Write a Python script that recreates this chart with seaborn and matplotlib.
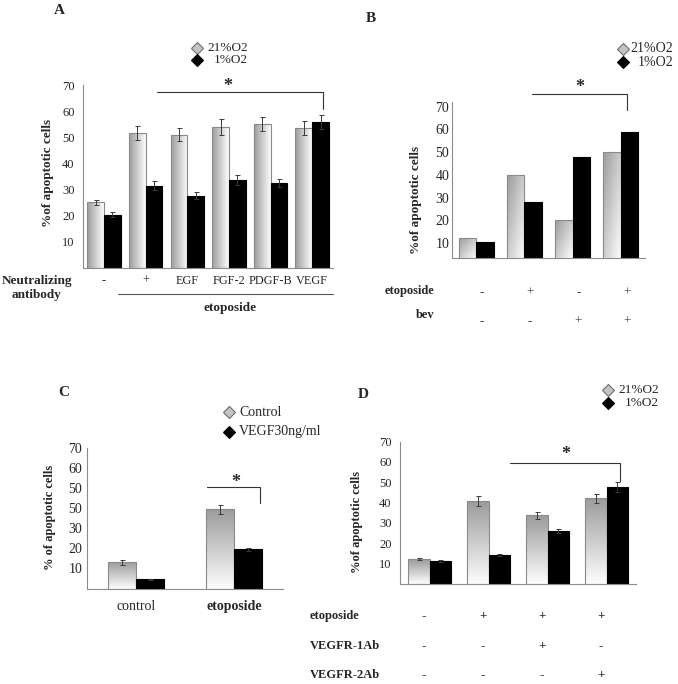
import numpy as np
import pandas as pd
import matplotlib
matplotlib.use("Agg")
import matplotlib.pyplot as plt
import matplotlib.transforms as mtransforms
import seaborn as sns
from matplotlib.colors import LinearSegmentedColormap
from matplotlib.lines import Line2D

# ---- data ----
# Panel A
a_groups = ["-", "+", "EGF", "FGF-2", "PDGF-B", "VEGF"]
a_21 = [25.1, 51.6, 51.0, 53.9, 55.0, 53.4]
a_21_err = [1.1, 2.6, 2.4, 3.0, 2.6, 2.7]
a_1 = [20.4, 31.5, 27.7, 33.7, 32.5, 55.7]
a_1_err = [1.0, 1.7, 1.2, 1.8, 1.4, 2.7]

# Panel B
b_groups = ["b1", "b2", "b3", "b4"]
b_etoposide = ["-", "+", "-", "+"]
b_bev = ["-", "-", "+", "+"]
b_21 = [12.1, 40.0, 20.1, 50.0]
b_1 = [10.3, 28.2, 48.0, 58.8]

# Panel C
c_groups = ["control", "etoposide"]
c_control = [13.0, 39.5]
c_control_err = [1.1, 2.2]
c_vegf = [4.5, 19.5]
c_vegf_err = [0.3, 0.6]
c_ytick_values = [10, 20, 30, 40, 50, 60, 70]
c_ytick_labels = ["10", "20", "30", "50", "50", "60", "70"]

# Panel D
d_groups = ["d1", "d2", "d3", "d4"]
d_etoposide = ["-", "+", "+", "+"]
d_r1ab = ["-", "-", "+", "-"]
d_r2ab = ["-", "-", "-", "+"]
d_21 = [12.1, 40.8, 33.6, 42.0]
d_21_err = [0.7, 2.3, 1.5, 2.4]
d_1 = [11.0, 14.1, 26.0, 47.6]
d_1_err = [0.4, 0.6, 1.1, 2.3]

o2_labels = ["21%O2", "1%O2"]
c_labels = ["Control", "VEGF30ng/ml"]

# ---- setup ----
sns.set_style("white")
plt.rcParams["font.family"] = ["Liberation Serif", "DejaVu Serif"]
W, H = 678, 684
fig = plt.figure(figsize=(W / 100, H / 100), dpi=100)
grad_cmap = LinearSegmentedColormap.from_list("grad", ["#fdfdfd", "#9c9c9c"])
AXIS_GREY = "#8c8c8c"


def px_axes(l, t, r, b):
    return fig.add_axes([l / W, 1 - b / H, (r - l) / W, (b - t) / H])


def ftext(x, y, s, **kw):
    fig.text(x / W, 1 - y / H, s, **kw)


def gradient_fill(ax, patch, direction, ymin):
    x0, y0 = patch.get_x(), max(patch.get_y(), ymin)
    w, y1 = patch.get_width(), patch.get_y() + patch.get_height()
    if direction == "h":
        g = np.linspace(1, 0, 64)[None, :]
    elif direction == "v":
        g = np.linspace(0, 1, 64)[:, None]
    else:
        xx, yy = np.meshgrid(np.linspace(0, 1, 64), np.linspace(0, 1, 64))
        g = ((1 - xx) + yy) / 2
    im = ax.imshow(g, extent=[x0, x0 + w, y0, y1], origin="lower",
                   aspect="auto", cmap=grad_cmap, vmin=0, vmax=1,
                   zorder=patch.get_zorder() - 0.01)
    im.set_clip_path(patch)


def bar_panel(ax, groups, v1, v2, width, grad, ylim, e1=None, e2=None):
    n = len(groups)
    df = pd.DataFrame({"group": groups * 2,
                       "cond": ["light"] * n + ["dark"] * n,
                       "value": v1 + v2})
    sns.barplot(data=df, x="group", y="value", hue="cond",
                palette=["white", "black"], width=width, errorbar=None,
                legend=False, ax=ax, linewidth=0.8)
    light, dark = ax.containers[0], ax.containers[1]
    for p in light:
        p.set_facecolor("none")
        p.set_edgecolor("#8a8a8a")
        gradient_fill(ax, p, grad, ylim[0])
    for p in dark:
        p.set_edgecolor("black")
    if e1 is not None:
        for cont, err in ((light, e1), (dark, e2)):
            xs = [p.get_x() + p.get_width() / 2 for p in cont]
            ys = [p.get_height() for p in cont]
            ax.errorbar(xs, ys, yerr=err, fmt="none", ecolor="#3a3a3a",
                        elinewidth=0.7, capsize=1.8, capthick=0.7, zorder=5)
    ax.set_xlim(-0.5, n - 0.5)
    ax.set_ylim(*ylim)
    ax.set_xlabel("")
    ax.set_ylabel("")
    sns.despine(ax=ax)
    for s in ("left", "bottom"):
        ax.spines[s].set_color(AXIS_GREY)
        ax.spines[s].set_linewidth(0.8)
    ax.set_xticks(np.arange(n - 1) + 0.5, minor=True)
    ax.tick_params(axis="x", which="minor", length=3, color=AXIS_GREY, width=0.7)
    ax.tick_params(axis="x", which="major", length=0)
    ax.set_facecolor("none")
    return light, dark


def bracket(ax, x0, x1, y, y_drop, star_x, star_y):
    ax.plot([x0, x1, x1], [y, y, y_drop], color="#333333", lw=0.8, clip_on=False)
    ax.text(star_x, star_y, "*", ha="center", va="center", fontsize=13,
            fontweight="bold", clip_on=False)


def o2_legend(xm, y0, dy, x_txt, labels, ha="right", fs=9.5):
    for i, (lab, fc, ec) in enumerate(zip(labels, ["#c4c4c4", "black"],
                                          ["#6e6e6e", "black"])):
        yy = y0 + i * dy
        fig.add_artist(Line2D([xm / W], [1 - yy / H], marker="D", ms=6.5,
                              mfc=fc, mec=ec, mew=0.8, ls="none",
                              transform=fig.transFigure))
        ftext(x_txt, yy, lab, ha=ha, va="center", fontsize=fs)


# ---- Panel A ----
axA = px_axes(83, 85, 333, 268)
bar_panel(axA, a_groups, a_21, a_1, 0.8, "h", (0, 70), a_21_err, a_1_err)
axA.set_yticks(np.arange(10, 80, 10))
axA.tick_params(axis="y", length=2, color=AXIS_GREY, pad=4, labelsize=9)
axA.set_xticks(range(len(a_groups)))
axA.set_xticklabels(a_groups, fontsize=8.8)
axA.tick_params(axis="x", which="major", pad=5)
bracket(axA, 1.28, 5.26, 67.2, 60.7, 2.97, 69.3)
ftext(48, 173, "%of apoptotic cells", rotation=90, ha="center", va="center",
      fontsize=9.5, fontweight="bold")
ftext(37, 288, "Neutralizing\nantibody", ha="center", va="center",
      fontsize=9.5, fontweight="bold", linespacing=1.25)
fig.add_artist(Line2D([118 / W, 333 / W], [1 - 294 / H, 1 - 294 / H],
                      color="#555555", lw=0.8, transform=fig.transFigure))
ftext(230, 308, "etoposide", ha="center", va="center", fontsize=9.5,
      fontweight="bold")
o2_legend(197, 48, 12, 248, o2_labels)
ftext(59, 11, "A", ha="center", va="center", fontsize=11, fontweight="bold")

# ---- Panel B ----
axB = px_axes(452, 101.7, 645, 257.7)
bar_panel(axB, b_groups, b_21, b_1, 0.73, "d", (3.5, 72.2))
axB.set_yticks(np.arange(10, 80, 10))
axB.tick_params(axis="y", length=0, pad=2, labelsize=10)
axB.set_xticks(range(len(b_groups)))
axB.set_xticklabels([])
bracket(axB, 1.16, 3.13, 75.6, 68.6, 2.15, 78.5)
ftext(416, 200, "%of apoptotic cells", rotation=90, ha="center", va="center",
      fontsize=9.5, fontweight="bold")
trB = mtransforms.blended_transform_factory(axB.transData, fig.transFigure)
for row, y_lab, y_val, name in ((b_etoposide, 291, 293, "etoposide"),
                                (b_bev, 315, 322, "bev")):
    ftext(434, y_lab, name, ha="right", va="center", fontsize=9,
          fontweight="bold")
    for i, s in enumerate(row):
        axB.text(i + 0.12, 1 - y_val / H, s, transform=trB, ha="center",
                 va="center", fontsize=9.5, color="#444444")
o2_legend(623, 49, 13, 673, o2_labels, fs=10)
ftext(371, 19, "B", ha="center", va="center", fontsize=11, fontweight="bold")

# ---- Panel C ----
axC = px_axes(87, 448, 283, 588.5)
bar_panel(axC, c_groups, c_control, c_vegf, 0.58, "v", (0, 70),
          c_control_err, c_vegf_err)
axC.set_yticks(c_ytick_values)
axC.set_yticklabels(c_ytick_labels)
axC.tick_params(axis="y", length=2.5, color=AXIS_GREY, width=0.7, pad=1,
                labelsize=10)
axC.set_xticks(range(len(c_groups)))
axC.set_xticklabels(c_groups, fontsize=10)
axC.get_xticklabels()[1].set_fontweight("bold")
axC.tick_params(axis="x", which="major", pad=8)
bracket(axC, 0.72, 1.27, 50.6, 42.5, 1.02, 52.8)
ftext(50, 517, "% of apoptotic cells", rotation=90, ha="center", va="center",
      fontsize=9, fontweight="bold")
o2_legend(229, 412, 20, 239, c_labels, ha="left", fs=10)
ftext(64, 393, "C", ha="center", va="center", fontsize=11, fontweight="bold")

# ---- Panel D ----
axD = px_axes(400, 441.7, 636, 583.6)
bar_panel(axD, d_groups, d_21, d_1, 0.74, "v", (0, 70), d_21_err, d_1_err)
axD.set_yticks(np.arange(10, 80, 10))
axD.tick_params(axis="y", length=0, pad=6, labelsize=9)
axD.set_xticks(range(len(d_groups)))
axD.set_xticklabels([])
bracket(axD, 1.36, 3.23, 59.6, 50.5, 2.31, 63.5)
ftext(357, 522, "%of apoptotic cells", rotation=90, ha="center", va="center",
      fontsize=9, fontweight="bold")
trD = mtransforms.blended_transform_factory(axD.transData, fig.transFigure)
for row, y_row, name in ((d_etoposide, 616, "etoposide"),
                         (d_r1ab, 646, "VEGFR-1Ab"),
                         (d_r2ab, 675, "VEGFR-2Ab")):
    ftext(310, y_row, name, ha="left", va="center", fontsize=9,
          fontweight="bold")
    for i, s in enumerate(row):
        axD.text(i - 0.09, 1 - y_row / H, s, transform=trD, ha="center",
                 va="center", fontsize=9.5, fontweight="bold")
o2_legend(608, 390, 13, 659, o2_labels)
ftext(363, 394, "D", ha="center", va="center", fontsize=11, fontweight="bold")

fig.savefig("out.png", dpi=100)
